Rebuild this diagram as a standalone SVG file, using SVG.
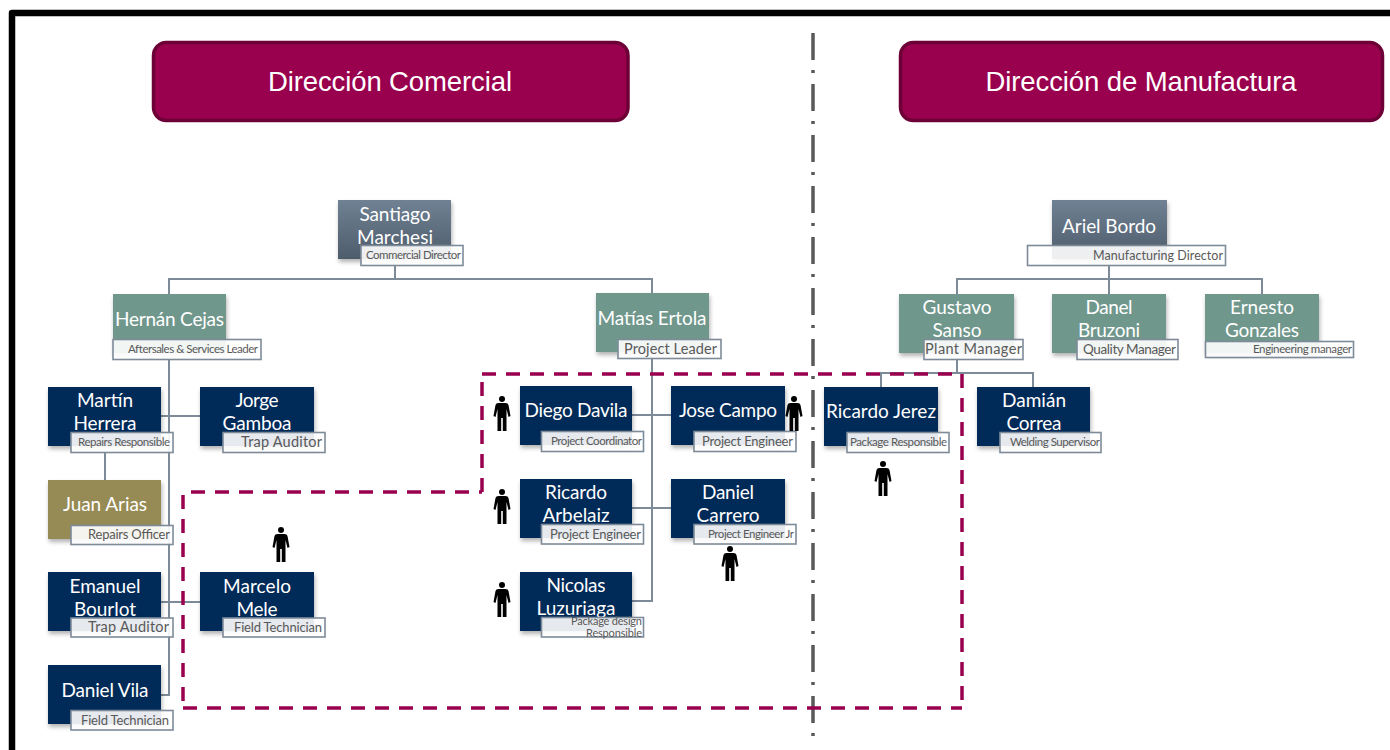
<svg xmlns="http://www.w3.org/2000/svg" width="1390" height="750" viewBox="0 0 1390 750">
<style>
.n{font-family:Lato,"Open Sans",sans-serif;font-size:19px;fill:#fff;text-anchor:middle}
.l{font-family:Lato,"Open Sans",sans-serif;fill:#595959;text-anchor:end}
.lb{fill:#fff;fill-opacity:.9;stroke:#7d8b99;stroke-width:1.6}
.h{font-family:"Liberation Sans",Arial,sans-serif;font-size:27.500px;fill:#fff;text-anchor:middle}
.hb{fill:#99004d;stroke:#6d0036;stroke-width:3.500}
.navy{fill:#042958}.teal{fill:#70978c}.olive{fill:#968a54}.dir{fill:url(#g)}
.box{filter:url(#s)}
.c{fill:none;stroke:#7d8b99;stroke-width:2}
.d{fill:none;stroke:#99004d;stroke-width:3.500;stroke-dasharray:14 10}
</style>
<defs>
<linearGradient id="g" x1="0" y1="0" x2="0" y2="1"><stop offset="0" stop-color="#6f8193"/><stop offset="1" stop-color="#4e5c6b"/></linearGradient>
<filter id="s" x="-10%" y="-10%" width="125%" height="130%"><feDropShadow dx="1" dy="3" stdDeviation="2" flood-color="#000" flood-opacity=".3"/></filter>
<g id="p"><circle cx="8" cy="3" r="3"/><path d="M4.500 7H11.500Q14 7 14.500 9L16.500 20 14.500 21 12.500 13V35H8.800V22H7.200V35H3.500V13L1.500 21-.5 20 1.500 9Q2 7 4.500 7Z"/></g>
</defs>
<rect width="1390" height="750" fill="#fff"/>
<path d="M12 750V13H1390" fill="none" stroke="#000" stroke-width="6.500" stroke-linejoin="round"/>
<g id="headers">
<g id="hdr-comercial"><rect class="hb" x="153.500" y="42.500" width="474.500" height="78" rx="13"/><text class="h" x="390" y="91" textLength="244">Dirección Comercial</text></g>
<g id="hdr-manufactura"><rect class="hb" x="900.500" y="42.500" width="482" height="78" rx="13"/><text class="h" x="1141" y="91" textLength="311">Dirección de Manufactura</text></g>
</g>
<path id="divider" d="M813 33V745" fill="none" stroke="#595959" stroke-width="3.500" stroke-dasharray="27 10 3 11"/>
<g id="connectors">
<path class="c" d="M395 266V279M169 294V279H652V293M652 359V601H632M632 415H671M632 508H671"/>
<path class="c" d="M169 359V695H161M161 416H200M161 602H200M105 452V480"/>
<path class="c" d="M1109 266V294M957 294V279H1262V294M957 359V373M881 387V373H1033V387"/>
</g>
<g id="santiago"><rect class="box dir" x="338" y="200" width="113" height="59"/><text class="n" x="395" y="221" textLength="71">Santiago</text><text class="n" x="395" y="243.500" textLength="76">Marchesi</text><rect class="lb" x="361" y="245.500" width="102" height="20"/><text class="l" x="461" y="259" font-size="11.500" textLength="95">Commercial Director</text></g>
<g id="hernan"><rect class="box teal" x="113" y="294" width="113" height="59"/><text class="n" x="169.500" y="326" textLength="109">Hernán Cejas</text><rect class="lb" x="113" y="339.500" width="148" height="20"/><text class="l" x="258" y="353" font-size="11.500" textLength="130">Aftersales &amp; Services Leader</text></g>
<g id="martin"><rect class="box navy" x="48" y="387" width="113" height="59"/><text class="n" x="105" y="407" textLength="56">Martín</text><text class="n" x="105" y="429.500" textLength="63">Herrera</text><rect class="lb" x="71" y="432.500" width="102" height="20"/><text class="l" x="170" y="446" font-size="11.500" textLength="92">Repairs Responsible</text></g>
<g id="jorge"><rect class="box navy" x="200" y="387" width="114" height="59"/><text class="n" x="257" y="407" textLength="43">Jorge</text><text class="n" x="257" y="429.500" textLength="69">Gamboa</text><rect class="lb" x="223" y="432.500" width="102" height="20"/><text class="l" x="322" y="447" font-size="14.500" textLength="81">Trap Auditor</text></g>
<g id="juan"><rect class="box olive" x="48" y="480" width="113" height="59"/><text class="n" x="105" y="511" textLength="84">Juan Arias</text><rect class="lb" x="71" y="525.500" width="102" height="19"/><text class="l" x="170" y="539" font-size="13" textLength="82">Repairs Officer</text></g>
<g id="emanuel"><rect class="box navy" x="48" y="572" width="113" height="59"/><text class="n" x="105" y="593" textLength="71">Emanuel</text><text class="n" x="105" y="615.500" textLength="62">Bourlot</text><rect class="lb" x="71" y="618" width="102" height="19"/><text class="l" x="169" y="632" font-size="14.500" textLength="81">Trap Auditor</text></g>
<g id="marcelo"><rect class="box navy" x="200" y="572" width="114" height="59"/><text class="n" x="257" y="593" textLength="68">Marcelo</text><text class="n" x="257" y="615.500" textLength="41">Mele</text><rect class="lb" x="223" y="618" width="102" height="19"/><text class="l" x="322" y="632" font-size="13" textLength="88">Field Technician</text></g>
<g id="vila"><rect class="box navy" x="48" y="665" width="113" height="59"/><text class="n" x="105" y="697" textLength="87">Daniel Vila</text><rect class="lb" x="71" y="710.500" width="102" height="19.500"/><text class="l" x="169" y="725" font-size="13" textLength="88">Field Technician</text></g>
<g id="matias"><rect class="box teal" x="596" y="293" width="113" height="59"/><text class="n" x="652" y="325" textLength="109">Matías Ertola</text><rect class="lb" x="618" y="339.500" width="103" height="19"/><text class="l" x="717" y="354" font-size="14.500" textLength="93">Project Leader</text></g>
<g id="diego"><rect class="box navy" x="520" y="386" width="112" height="59"/><text class="n" x="576" y="417" textLength="103">Diego Davila</text><rect class="lb" x="541.500" y="431.500" width="102" height="20"/><text class="l" x="642" y="445" font-size="11.500" textLength="91">Project Coordinator</text></g>
<g id="jose"><rect class="box navy" x="671" y="386" width="114" height="59"/><text class="n" x="728" y="417" textLength="98">Jose Campo</text><rect class="lb" x="694" y="431.500" width="102" height="20"/><text class="l" x="793" y="446" font-size="13" textLength="91">Project Engineer</text></g>
<g id="ricardo-a"><rect class="box navy" x="520" y="479" width="112" height="59"/><text class="n" x="576" y="499" textLength="62">Ricardo</text><text class="n" x="576" y="521.500" textLength="67">Arbelaiz</text><rect class="lb" x="541.500" y="524.500" width="102" height="19.500"/><text class="l" x="641" y="539" font-size="13" textLength="91">Project Engineer</text></g>
<g id="carrero"><rect class="box navy" x="671" y="479" width="114" height="59"/><text class="n" x="728" y="499" textLength="52">Daniel</text><text class="n" x="728" y="521.500" textLength="63">Carrero</text><rect class="lb" x="694" y="524.500" width="102" height="19.500"/><text class="l" x="794" y="538" font-size="11.500" textLength="86">Project Engineer Jr</text></g>
<g id="nicolas"><rect class="box navy" x="520" y="572" width="112" height="59"/><text class="n" x="576" y="592" textLength="59">Nicolas</text><text class="n" x="576" y="614.500" textLength="79">Luzuriaga</text><rect class="lb" x="541.500" y="617.500" width="102" height="19.500"/><text class="l" x="642" y="625" font-size="11" textLength="71">Package design</text><text class="l" x="642" y="637" font-size="11" textLength="56">Responsible</text></g>
<g id="ariel"><rect class="box dir" x="1052" y="200" width="115" height="59"/><text class="n" x="1109" y="233" textLength="94">Ariel Bordo</text><rect class="lb" x="1027.500" y="245.500" width="198" height="20"/><text class="l" x="1223" y="260" font-size="12.500" textLength="130">Manufacturing Director</text></g>
<g id="gustavo"><rect class="box teal" x="899" y="294" width="115" height="59"/><text class="n" x="957" y="314" textLength="69">Gustavo</text><text class="n" x="957" y="336.500" textLength="49">Sanso</text><rect class="lb" x="924" y="339.500" width="99" height="20"/><text class="l" x="1022" y="354" font-size="14.500" textLength="97">Plant Manager</text></g>
<g id="danel"><rect class="box teal" x="1052" y="294" width="114" height="59"/><text class="n" x="1109" y="314" textLength="47">Danel</text><text class="n" x="1109" y="336.500" textLength="62">Bruzoni</text><rect class="lb" x="1077" y="339.500" width="101" height="20"/><text class="l" x="1176" y="354" font-size="13.500" textLength="93">Quality Manager</text></g>
<g id="ernesto"><rect class="box teal" x="1205" y="294" width="114" height="59"/><text class="n" x="1262" y="314" textLength="64">Ernesto</text><text class="n" x="1262" y="336.500" textLength="74">Gonzales</text><rect class="lb" x="1205.500" y="341.500" width="148" height="16"/><text class="l" x="1352" y="353" font-size="11.500" textLength="99">Engineering manager</text></g>
<g id="jerez"><rect class="box navy" x="824" y="387" width="114" height="59"/><text class="n" x="881" y="418" textLength="110">Ricardo Jerez</text><rect class="lb" x="847" y="432.500" width="102" height="20"/><text class="l" x="947" y="446" font-size="11.500" textLength="97">Package Responsible</text></g>
<g id="damian"><rect class="box navy" x="977" y="387" width="113" height="59"/><text class="n" x="1034" y="407" textLength="64">Damián</text><text class="n" x="1034" y="429.500" textLength="55">Correa</text><rect class="lb" x="1000" y="432.500" width="101" height="20"/><text class="l" x="1100" y="446" font-size="11.500" textLength="90">Welding Supervisor</text></g>
<g id="people">
<use href="#p" x="494" y="396"/><use href="#p" x="786" y="396"/><use href="#p" x="494" y="489"/><use href="#p" x="494" y="582"/><use href="#p" x="722" y="546"/><use href="#p" x="273" y="527"/><use href="#p" x="875" y="461"/>
</g>
<g id="team">
<path class="d" d="M191 492H482"/><path class="d" d="M482 492V374"/><path class="d" d="M482 374H962"/><path class="d" d="M962 374V708"/><path class="d" d="M183 708H962"/><path class="d" d="M183 495V708"/>
</g>
</svg>
